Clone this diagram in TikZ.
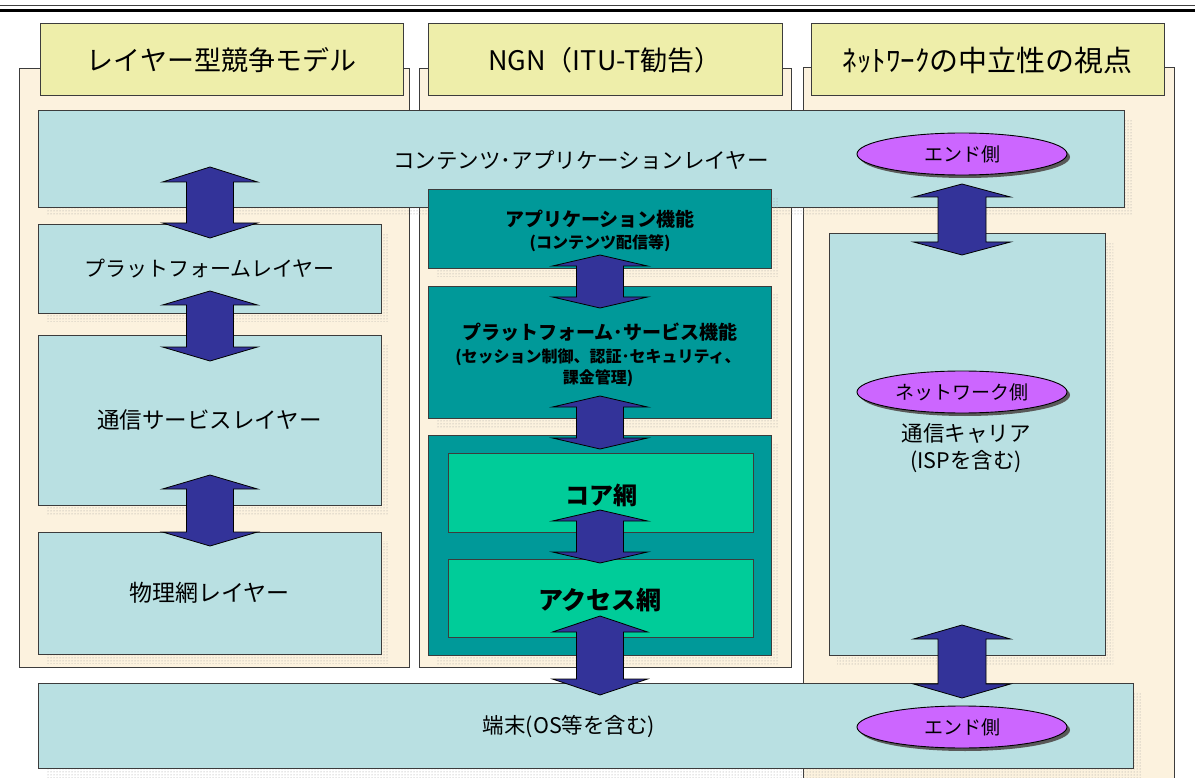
\documentclass[tikz,border=0pt]{standalone}
\usepackage{fontspec}
\setmainfont{Noto Sans CJK JP}
\usetikzlibrary{shapes.geometric,patterns,shadows}
\definecolor{beige}{RGB}{252,242,222}
\definecolor{hdryellow}{RGB}{238,238,170}
\definecolor{lblue}{RGB}{185,224,226}
\definecolor{teal}{RGB}{0,153,153}
\definecolor{mint}{RGB}{0,204,153}
\definecolor{navy}{RGB}{51,51,153}
\definecolor{violet}{RGB}{204,102,255}
\definecolor{edge}{RGB}{60,60,60}
\newcommand{\fsz}[1]{\fontsize{#1}{#1}\selectfont}
% box with dotted shadow: name, style, x1, y1, x2, y2, text
\newcommand{\shbox}[7]{%
  \fill[dshadow] ({#3+8},{#4+9}) rectangle ({#5+8},{#6+9});
  \node[rbox,#2,minimum width={#5-#3},minimum height={#6-#4}] (#1) at (#3,#4) {};
  \node[txt] (#1-t) at ({(#3+#5)/2},{(#4+#6)/2}) {#7};}
\newcommand{\plbox}[7]{%
  \node[rbox,#2,minimum width={#5-#3},minimum height={#6-#4}] (#1) at (#3,#4) {};
  \node[txt] (#1-t) at ({(#3+#5)/2},{(#4+#6)/2}) {#7};}
% block double arrow: cx, ytop, ybot, head height, half shaft, half head
\newcommand{\blockarrow}[6]{%
  \filldraw[arrowst] ({#1-#5},{#2+#4}) -- ({#1-#6},{#2+#4}) -- (#1,#2) -- ({#1+#6},{#2+#4})
   -- ({#1+#5},{#2+#4}) -- ({#1+#5},{#3-#4}) -- ({#1+#6},{#3-#4}) -- (#1,#3)
   -- ({#1-#6},{#3-#4}) -- ({#1-#5},{#3-#4}) -- cycle;}
\begin{document}
\begin{tikzpicture}[x=1pt,y=-1pt,
  rbox/.style={rectangle,inner sep=0,outer sep=0,anchor=north west,draw=edge,line width=0.9},
  colbg/.style={rbox,fill=beige,draw=edge,line width=0.9},
  hdr/.style={rbox,fill=hdryellow,draw=edge,line width=1,anchor=center,font=\fsz{27}},
  light/.style={fill=lblue},
  tealbox/.style={fill=teal},
  mintbox/.style={fill=mint},
  txt/.style={inner sep=0,outer sep=0,text=black},
  btxt/.style={inner sep=0,outer sep=0,text=black,font=\bfseries},
  dshadow/.style={pattern=dots,pattern color=black!40},
  arrowst/.style={fill=navy,draw=black,line width=0.8,line join=miter},
  oval/.style={ellipse,fill=violet,draw=black,line width=0.9,minimum width=210,minimum height=42,inner sep=0,
    font=\fsz{19},drop shadow={shadow xshift=3pt,shadow yshift=-3pt,fill=black!65,opacity=1}}]
\useasboundingbox[fill=white] (0,0) rectangle (1195,778);
% top rule
\draw[line width=1.2,black!75] (0,5.8) -- (1195,5.8);
\draw[line width=3.6,black] (0,10.5) -- (1195,10.5);
% column backgrounds
\node[colbg,minimum width=390,minimum height=599] (colL) at (19,68) {};
\node[colbg,minimum width=372,minimum height=599] (colM) at (419,68) {};
\fill[beige] (803,67) rectangle (1174,778);
\draw[edge,line width=0.9] (803,778) -- (803,67) -- (1174,67) -- (1174,778);
% headers
\node[hdr,minimum width=363,minimum height=72] (hL) at (221.5,60) {レイヤー型競争モデル};
\node[hdr,minimum width=354,minimum height=72] (hM) at (605,60) {NGN（ITU-T勧告）};
\node[hdr,minimum width=353,minimum height=72,font=\fsz{29}] (hR) at (987.5,60) {ﾈｯﾄﾜｰｸの中立性の視点};
% top contents layer
\shbox{contents}{light}{38}{110}{1124}{207}{}
\node[txt,font=\fsz{21.5}] (contents-l) at (581,160) {コンテンツ･アプリケーションレイヤー};
% left column
\shbox{plat}{light}{38}{224}{381}{313}{\fsz{21}プラットフォームレイヤー}
\shbox{comm}{light}{38}{335}{381}{505}{\fsz{22.5}通信サービスレイヤー}
\shbox{phys}{light}{38}{532}{381}{654}{\fsz{23}物理網レイヤー}
% middle column
\shbox{app}{tealbox}{428}{189}{771}{268}{}
\node[btxt,font=\fsz{19}\bfseries] (app1) at (600,219) {アプリケーション機能};
\node[btxt,font=\fsz{16}\bfseries] (app2) at (600,243) {(コンテンツ配信等)};
\shbox{psvc}{tealbox}{428}{286}{771}{418}{}
\node[btxt,font=\fsz{19}\bfseries] (ps1) at (600,332) {プラットフォーム･サービス機能};
\node[btxt,font=\fsz{16}\bfseries] (ps2) at (598,357) {(セッション制御、認証･セキュリティ、};
\node[btxt,font=\fsz{16}\bfseries] (ps3) at (598,378) {課金管理)};
\shbox{net}{tealbox}{428}{435}{771}{655}{}
\plbox{core}{mintbox}{448}{453}{753}{532}{}
\node[btxt,font=\fsz{24}\bfseries] (core-l) at (601,495) {コア網};
\plbox{access}{mintbox}{448}{559}{753}{637}{}
\node[btxt,font=\fsz{25}\bfseries] (access-l) at (600,600) {アクセス網};
% right column
\shbox{carrier}{light}{829}{233}{1105}{655}{}
\node[txt,font=\fsz{21.5}] (car1) at (966,433) {通信キャリア};
\node[txt,font=\fsz{21.5}] (car2) at (966,462) {(ISPを含む)};
% bottom terminal
\shbox{term}{light}{38}{683}{1133}{768}{}
\node[txt,font=\fsz{21.5}] (term-l) at (569,727) {端末(OS等を含む)};
% arrows
\blockarrow{210}{167}{238}{15}{23.5}{47.5}
\blockarrow{210}{291}{361}{14}{23.5}{47.5}
\blockarrow{210}{475}{546}{14}{23.5}{47.5}
\blockarrow{600}{255}{308}{11}{23.5}{47.5}
\blockarrow{600}{396}{449}{11}{23.5}{47.5}
\blockarrow{600}{510}{563}{11}{23.5}{47.5}
\blockarrow{600}{616}{695}{16}{23.5}{47.5}
\blockarrow{962}{184}{255}{13}{24}{48.5}
\blockarrow{962}{625}{698}{14}{24}{48.5}
% ellipses
\node[oval] (endTop) at (962,154) {エンド側};
\node[oval] (netSide) at (962,392) {ネットワーク側};
\node[oval] (endBot) at (962,727) {エンド側};
\end{tikzpicture}
\end{document}
